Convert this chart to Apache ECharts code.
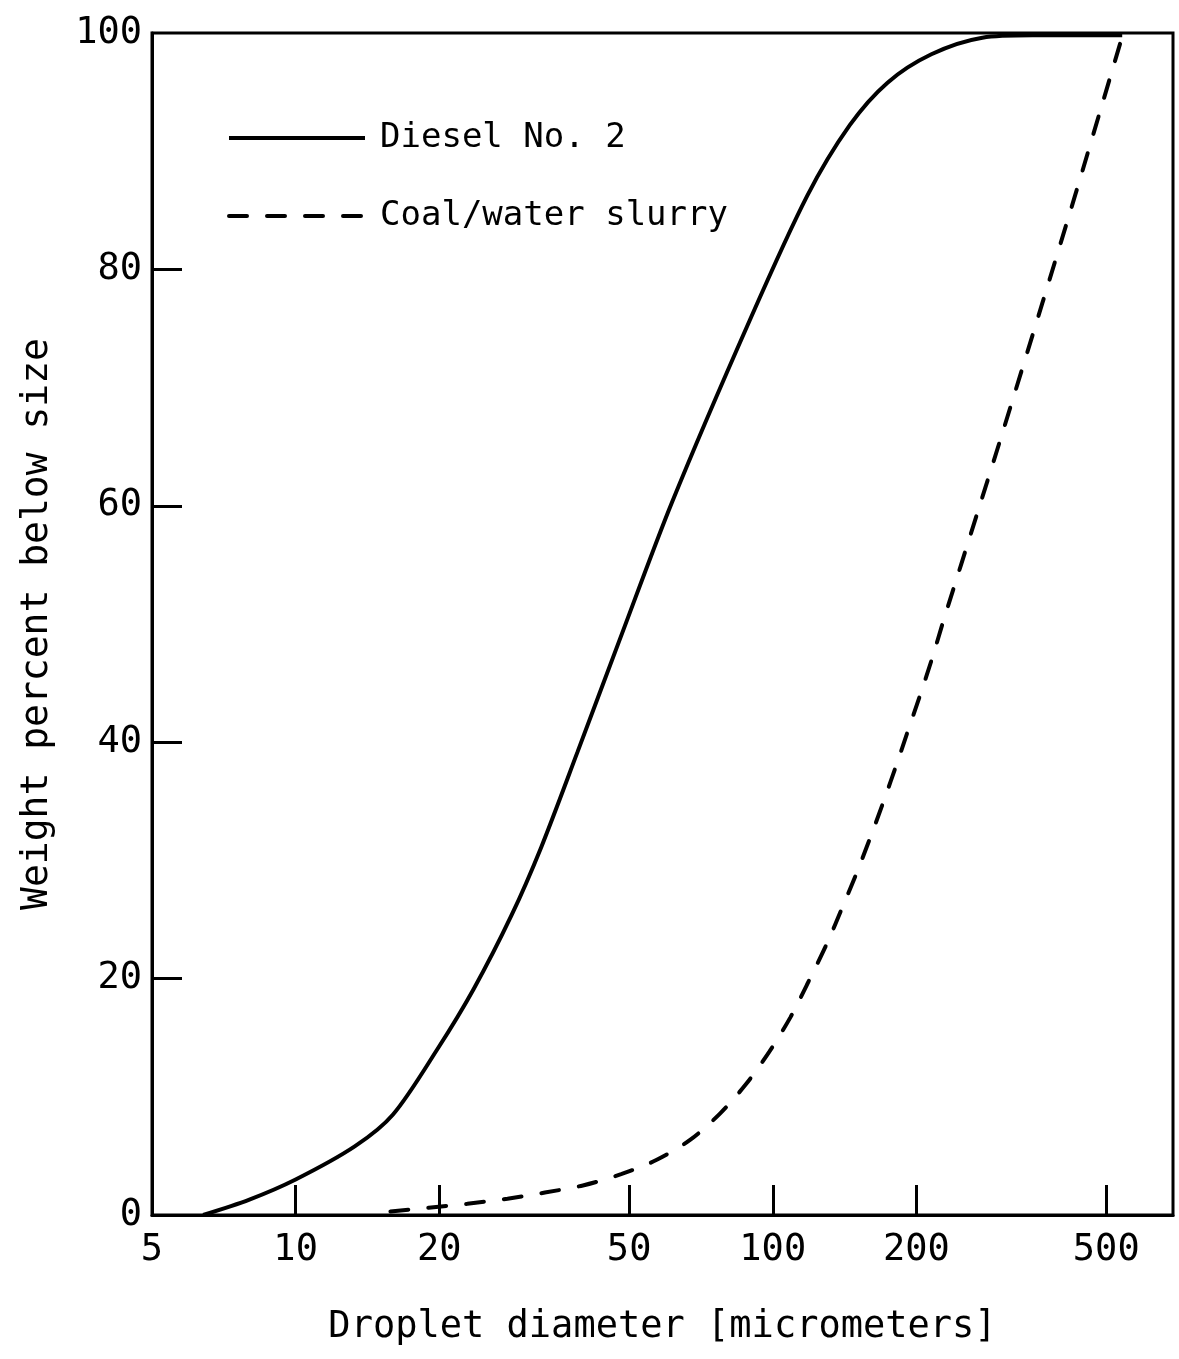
<!DOCTYPE html>
<html>
<head>
<meta charset="utf-8">
<script src="https://cdn.jsdelivr.net/npm/echarts@6/dist/echarts.min.js"></script>
<style>
html,body{margin:0;padding:0;background:#fff;}
#chart{width:1179px;height:1359px;}
</style>
</head>
<body>
<div id="chart"></div>
<script>
var xLabelValues = [5, 10, 20, 50, 100, 200, 500];
var xTickValues = [10, 20, 50, 100, 200, 500];
var yTickValues = [20, 40, 60, 80];

var dieselDiameter = [6.4, 8.0, 10, 13.3, 16, 19.8, 23.6, 28.3, 32.7, 39.0, 47.5, 61.5, 89.5, 118, 145, 174, 215, 275, 350, 540];
var dieselPercent  = [0, 1.3, 3.0, 5.8, 8.5, 14.0, 19.1, 25.3, 31.1, 39.2, 48.4, 60.3, 75.7, 86.2, 92.2, 95.8, 98.2, 99.6, 99.8, 99.8];

var coalDiameter = [15.8, 19.0, 22.9, 27.8, 33.3, 40.0, 48.1, 57.0, 67.1, 77.6, 88.0, 98.3, 108.8, 118, 130, 140.5, 150.3, 160, 170.4, 182.4, 191.4, 203.7, 215.8, 227.6, 270.9, 302.6, 367, 430.5, 493, 540];
var coalPercent  = [0.3, 0.62, 0.95, 1.38, 1.9, 2.5, 3.45, 4.65, 6.35, 8.6, 11.1, 13.8, 16.7, 19.5, 23.0, 26.2, 29.05, 31.9, 34.9, 38.3, 40.8, 44.0, 47.1, 50.2, 59.9, 66.1, 77.1, 86.3, 94.3, 99.7];

var FONT = 'DejaVu Sans Mono';

function pairs(xs, ys) {
  return xs.map(function (x, i) { return [x, ys[i]]; });
}

var chart = echarts.init(document.getElementById('chart'), null, {renderer: 'canvas'});
chart.setOption({
  backgroundColor: '#fff',
  animation: false,
  grid: {
    left: 152, top: 33, right: 6, bottom: 144,
    show: true, borderColor: '#000', borderWidth: 3, backgroundColor: 'transparent'
  },
  legend: {
    data: [
      {name: 'Diesel No. 2', lineStyle: {width: 4, type: 'solid', color: '#000'}},
      {name: 'Coal/water slurry', lineStyle: {width: 4, type: [18, 20], cap: 'round', color: '#000'}}
    ],
    orient: 'vertical',
    left: 227, top: 121, padding: 0,
    itemWidth: 136, itemHeight: 34, itemGap: 44,
    itemStyle: {opacity: 0, color: 'transparent', borderWidth: 0},
    textStyle: {fontFamily: FONT, fontSize: 34, color: '#000', padding: [3, 0, 0, 10]}
  },
  xAxis: {
    type: 'log', logBase: 10, min: 5, max: 690,
    name: 'Droplet diameter [micrometers]',
    nameLocation: 'middle', nameGap: 94,
    nameTextStyle: {fontFamily: FONT, fontSize: 37, color: '#000'},
    axisLine: {show: true, lineStyle: {color: '#000', width: 3}},
    axisTick: {show: true, inside: true, length: 30, lineStyle: {color: '#000', width: 3}, customValues: xTickValues},
    axisLabel: {fontFamily: FONT, fontSize: 37, color: '#000', margin: 17, customValues: xLabelValues},
    splitLine: {show: false},
    minorTick: {show: false}
  },
  yAxis: {
    type: 'value', min: 0, max: 100, interval: 20,
    name: 'Weight percent below size',
    nameLocation: 'middle', nameGap: 96,
    nameTextStyle: {fontFamily: FONT, fontSize: 38, color: '#000'},
    axisLine: {show: true, lineStyle: {color: '#000', width: 3}},
    axisTick: {show: true, inside: true, length: 30, lineStyle: {color: '#000', width: 3}, customValues: yTickValues},
    axisLabel: {fontFamily: FONT, fontSize: 37, color: '#000', margin: 10},
    splitLine: {show: false}
  },
  series: [
    {
      name: 'Diesel No. 2', type: 'line', smooth: 0.3,
      symbol: 'none', showSymbol: false,
      data: pairs(dieselDiameter, dieselPercent),
      lineStyle: {color: '#000', width: 4, type: 'solid'},
      itemStyle: {color: '#000'}
    },
    {
      name: 'Coal/water slurry', type: 'line', smooth: 0.3,
      symbol: 'none', showSymbol: false,
      data: pairs(coalDiameter, coalPercent),
      lineStyle: {color: '#000', width: 4, type: [18, 20], cap: 'round'},
      itemStyle: {color: '#000'}
    }
  ]
});
</script>
</body>
</html>
